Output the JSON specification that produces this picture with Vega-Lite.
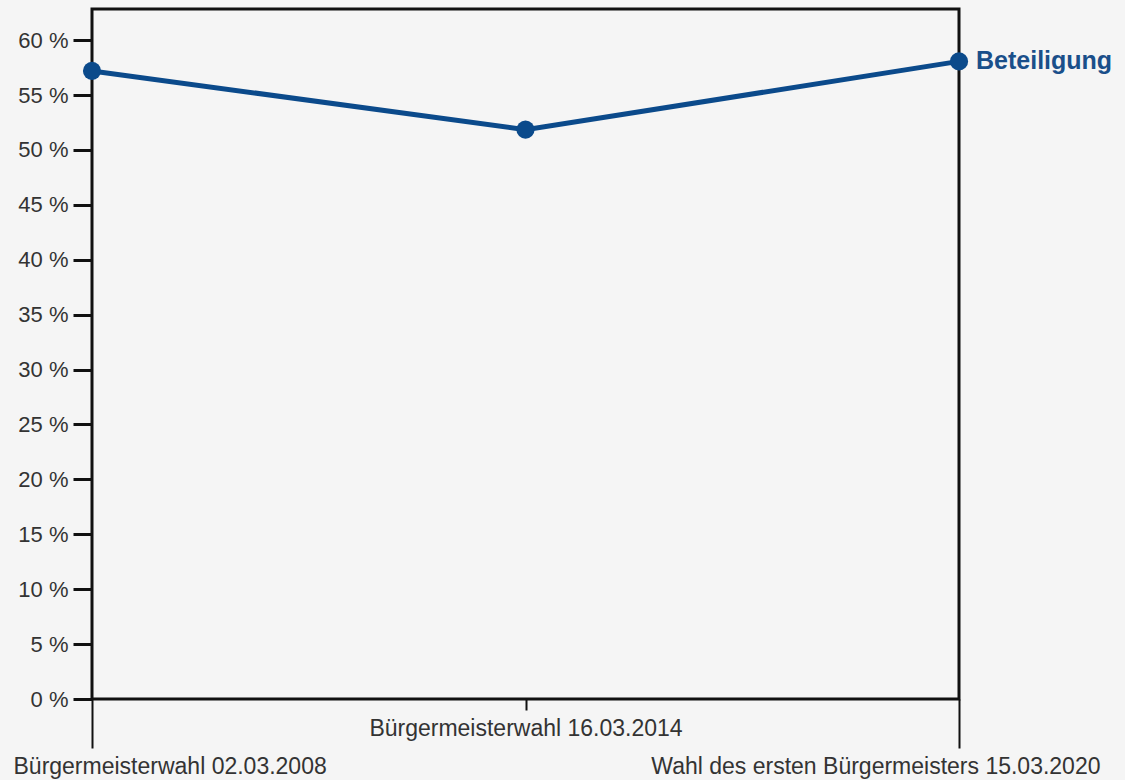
{
  "$schema": "https://vega.github.io/schema/vega-lite/v6.json",
  "width": 867,
  "height": 690,
  "autosize": {"type": "none"},
  "padding": {"left": 92, "top": 9, "right": 166, "bottom": 81},
  "background": "#f5f5f5",
  "config": {
    "view": {"stroke": "#111111", "strokeWidth": 3},
    "font": "Liberation Sans"
  },
  "data": {
    "values": [
      {"wahl": "Bürgermeisterwahl 02.03.2008", "beteiligung": 57.2, "serie": "Beteiligung"},
      {"wahl": "Bürgermeisterwahl 16.03.2014", "beteiligung": 51.85, "serie": "Beteiligung"},
      {"wahl": "Wahl des ersten Bürgermeisters 15.03.2020", "beteiligung": 58.07, "serie": "Beteiligung"}
    ]
  },
  "encoding": {
    "x": {
      "field": "wahl",
      "type": "ordinal",
      "sort": null,
      "scale": {"type": "point", "padding": 0},
      "axis": {
        "title": null,
        "domain": false,
        "labelAngle": 0,
        "labelOverlap": false,
        "labelBound": false,
        "labelFlush": false,
        "labelLimit": 0,
        "tickColor": "#111111",
        "tickWidth": 2,
        "tickSize": {"condition": {"test": "datum.value === 'Bürgermeisterwahl 16.03.2014'", "value": 11}, "value": 49},
        "labelPadding": 18,
        "labelBaseline": "middle",
        "labelAlign": {
          "condition": [
            {"test": "datum.value === 'Bürgermeisterwahl 02.03.2008'", "value": "left"},
            {"test": "datum.value === 'Wahl des ersten Bürgermeisters 15.03.2020'", "value": "right"}
          ],
          "value": "center"
        },
        "labelOffset": {
          "condition": [
            {"test": "datum.value === 'Bürgermeisterwahl 02.03.2008'", "value": -79},
            {"test": "datum.value === 'Wahl des ersten Bürgermeisters 15.03.2020'", "value": 141}
          ],
          "value": 0
        },
        "labelFontSize": 23,
        "labelColor": "#333333"
      }
    },
    "y": {
      "field": "beteiligung",
      "type": "quantitative",
      "scale": {"domain": [0, 62.84], "nice": false, "zero": true},
      "axis": {
        "title": null,
        "domain": false,
        "grid": false,
        "values": [0, 5, 10, 15, 20, 25, 30, 35, 40, 45, 50, 55, 60],
        "labelExpr": "datum.value + ' %'",
        "tickColor": "#111111",
        "tickWidth": 3,
        "tickSize": 19,
        "labelPadding": 5,
        "labelFontSize": 22,
        "labelColor": "#333333"
      }
    }
  },
  "layer": [
    {
      "mark": {"type": "line", "color": "#0b4a8b", "strokeWidth": 5}
    },
    {
      "mark": {"type": "point", "filled": true, "opacity": 1, "color": "#0b4a8b", "size": 330}
    },
    {
      "transform": [{"filter": "datum.wahl === 'Wahl des ersten Bürgermeisters 15.03.2020'"}],
      "mark": {"type": "text", "align": "left", "baseline": "middle", "dx": 17, "fontWeight": "bold", "fontSize": 25, "color": "#1a4f8a"},
      "encoding": {"text": {"field": "serie"}}
    }
  ]
}
